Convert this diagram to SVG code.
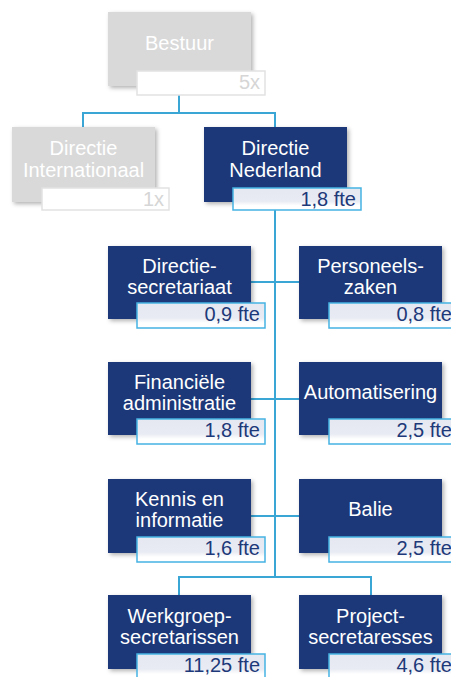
<svg xmlns="http://www.w3.org/2000/svg" width="451" height="677" viewBox="0 0 451 677">
<defs>
<filter id="sh" x="-10%" y="-10%" width="125%" height="130%">
<feDropShadow dx="2" dy="2" stdDeviation="2" flood-color="#000" flood-opacity="0.3"/>
</filter>
<linearGradient id="lg" x1="0" y1="0" x2="0" y2="1">
<stop offset="0" stop-color="#e5e8f1"/>
<stop offset="0.6" stop-color="#e8ebf3"/>
<stop offset="0.8" stop-color="#ffffff"/>
</linearGradient>
</defs>
<style>
.box{fill:#1d3979;filter:url(#sh)}
.gbox{fill:#d9d9d9;filter:url(#sh)}
.t{font-family:"Liberation Sans",Arial,sans-serif;font-size:20px;fill:#ffffff;text-anchor:middle}
.lab{fill:url(#lg);stroke:#45b2e2;stroke-width:1.5}
.glab{fill:#ffffff;stroke:#e2e2e2;stroke-width:1.5}
.lt{font-family:"Liberation Sans",Arial,sans-serif;font-size:20px;fill:#1d3979;text-anchor:end}
.glt{font-family:"Liberation Sans",Arial,sans-serif;font-size:20px;fill:#d6d6d6;text-anchor:end}
.c{fill:none;stroke:#3aa6d6;stroke-width:2}
</style>
<g id="connectors">
<path class="c" d="M179,86 V113 M83,127 V113 H275 V127"/>
<path class="c" d="M275,202 V577"/>
<path class="c" d="M251,282 H299 M251,399 H299 M251,516 H299"/>
<path class="c" d="M179,595 V577 H371 V595"/>
</g>
<g id="bestuur">
<rect class="gbox" x="108" y="12" width="143" height="74"/>
<text class="t" x="179.5" y="50">Bestuur</text>
<rect class="glab" x="137" y="71" width="128" height="24"/>
<text class="glt" x="260" y="89">5x</text>
</g>
<g id="directie-internationaal">
<rect class="gbox" x="12" y="127" width="143" height="75"/>
<text class="t" x="83.5" y="155">Directie</text>
<text class="t" x="83.5" y="177">Internationaal</text>
<rect class="glab" x="42" y="188" width="127" height="22"/>
<text class="glt" x="164" y="206">1x</text>
</g>
<g id="directie-nederland">
<rect class="box" x="204" y="127" width="143" height="75"/>
<text class="t" x="275.5" y="155">Directie</text>
<text class="t" x="275.5" y="177">Nederland</text>
<rect class="lab" x="233" y="188" width="128" height="22"/>
<text class="lt" x="356" y="206">1,8 fte</text>
</g>
<g id="directiesecretariaat">
<rect class="box" x="108" y="246" width="143" height="73"/>
<text class="t" x="179.5" y="273">Directie-</text>
<text class="t" x="179.5" y="294">secretariaat</text>
<rect class="lab" x="137" y="303" width="128" height="25"/>
<text class="lt" x="260" y="321">0,9 fte</text>
</g>
<g id="personeelszaken">
<rect class="box" x="299" y="246" width="143" height="73"/>
<text class="t" x="370.5" y="273">Personeels-</text>
<text class="t" x="370.5" y="294">zaken</text>
<rect class="lab" x="329" y="303" width="128" height="25"/>
<text class="lt" x="452" y="321">0,8 fte</text>
</g>
<g id="financiele-administratie">
<rect class="box" x="108" y="362" width="143" height="73"/>
<text class="t" x="179.5" y="389">Financiële</text>
<text class="t" x="179.5" y="410">administratie</text>
<rect class="lab" x="137" y="419" width="128" height="25"/>
<text class="lt" x="260" y="437">1,8 fte</text>
</g>
<g id="automatisering">
<rect class="box" x="299" y="362" width="143" height="73"/>
<text class="t" x="370.5" y="399">Automatisering</text>
<rect class="lab" x="329" y="419" width="128" height="25"/>
<text class="lt" x="452" y="437">2,5 fte</text>
</g>
<g id="kennis-en-informatie">
<rect class="box" x="108" y="479" width="143" height="74"/>
<text class="t" x="179.5" y="506">Kennis en</text>
<text class="t" x="179.5" y="527">informatie</text>
<rect class="lab" x="137" y="537" width="128" height="25"/>
<text class="lt" x="260" y="555">1,6 fte</text>
</g>
<g id="balie">
<rect class="box" x="299" y="479" width="143" height="74"/>
<text class="t" x="370.5" y="516">Balie</text>
<rect class="lab" x="329" y="537" width="128" height="25"/>
<text class="lt" x="452" y="555">2,5 fte</text>
</g>
<g id="werkgroepsecretarissen">
<rect class="box" x="108" y="595" width="143" height="74"/>
<text class="t" x="179.5" y="623">Werkgroep-</text>
<text class="t" x="179.5" y="644">secretarissen</text>
<rect class="lab" x="137" y="654" width="128" height="25"/>
<text class="lt" x="260" y="672">11,25 fte</text>
</g>
<g id="projectsecretaresses">
<rect class="box" x="299" y="595" width="143" height="74"/>
<text class="t" x="370.5" y="623">Project-</text>
<text class="t" x="370.5" y="644">secretaresses</text>
<rect class="lab" x="329" y="654" width="128" height="25"/>
<text class="lt" x="452" y="672">4,6 fte</text>
</g>
</svg>
